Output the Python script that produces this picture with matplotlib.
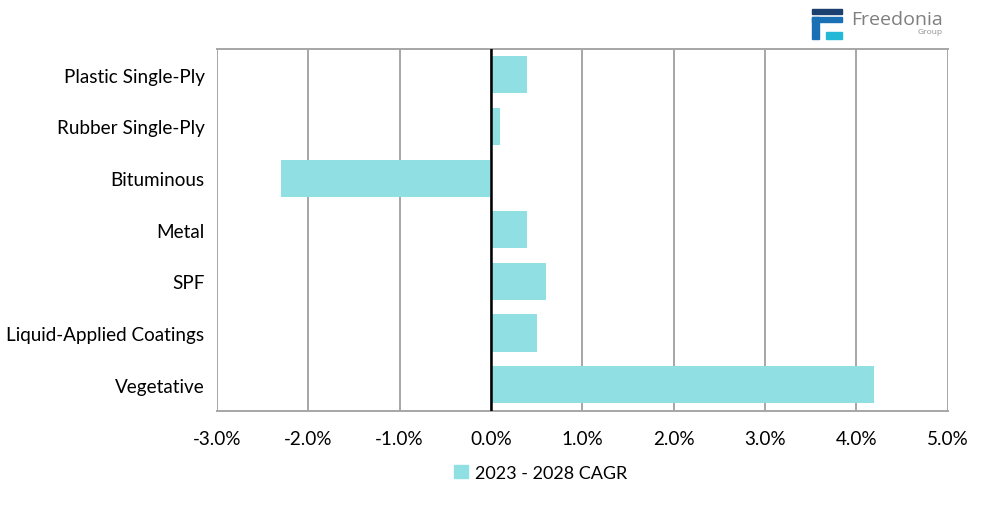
import matplotlib
matplotlib.use("Agg")
import matplotlib.pyplot as plt
from matplotlib.patches import Rectangle, Patch
from matplotlib.ticker import FuncFormatter

categories = ["Plastic Single-Ply", "Rubber Single-Ply", "Bituminous", "Metal",
              "SPF", "Liquid-Applied Coatings", "Vegetative"]
values = [0.4, 0.1, -2.3, 0.4, 0.6, 0.5, 4.2]
series_name = "2023 - 2028 CAGR"
xticks = [-3, -2, -1, 0, 1, 2, 3, 4, 5]

plt.rcParams['font.family'] = ['Lato', 'DejaVu Sans']

W, H = 981, 506
fig = plt.figure(figsize=(W/100, H/100), dpi=100)
ax = fig.add_axes([217/W, 1-411.5/H, (947.5-217)/W, (411.5-50)/H])

bar_color = "#90DFE3"
grid_color = "#A6A6A6"
y = list(range(len(categories)))
ax.barh(y, values, height=0.72, color=bar_color, zorder=2)
ax.set_ylim(len(categories)-0.5, -0.5)
ax.set_xlim(-3, 5)
ax.set_xticks(xticks)
ax.xaxis.set_major_formatter(FuncFormatter(lambda v, p: f"{v:.1f}%"))
ax.set_yticks(y)
ax.set_yticklabels(categories)
ax.grid(axis='x', color=grid_color, linewidth=1.4, zorder=0)
ax.axvline(0, color='black', linewidth=1.8, zorder=3)
for s in ['left', 'right']:
    ax.spines[s].set_visible(False)
for s in ['top', 'bottom']:
    ax.spines[s].set_color(grid_color)
    ax.spines[s].set_linewidth(1.4)
ax.tick_params(axis='y', length=0, labelsize=13.6, pad=9)
ax.tick_params(axis='x', length=0, labelsize=13.6, pad=14)

fig.legend(handles=[Patch(color=bar_color, label=series_name)],
           loc='center', bbox_to_anchor=(541/W, 1-474/H), frameon=False,
           fontsize=13, handlelength=0.75, handleheight=0.75, handletextpad=0.4)

# logo
def frect(x0, y0, x1, y1, c):
    fig.patches.append(Rectangle((x0/W, 1-y1/H), (x1-x0)/W, (y1-y0)/H,
                                 transform=fig.transFigure, color=c, zorder=5))
frect(812, 10, 842, 15, "#1B3F6E")
frect(812, 18, 842, 23, "#1A6FB5")
frect(812, 18, 819, 40, "#1A6FB5")
frect(826, 33, 842, 40, "#22B8D6")
fig.text(851/W, 1-20/H, "Freedonia", fontsize=14, color="#7F7F7F", va='center', ha='left',
         family=['Open Sans', 'DejaVu Sans'])
fig.text(942/W, 1-33/H, "Group", fontsize=6, color="#8F8F8F", va='center', ha='right',
         family=['Open Sans', 'DejaVu Sans'])

fig.savefig("out.png", dpi=100)
